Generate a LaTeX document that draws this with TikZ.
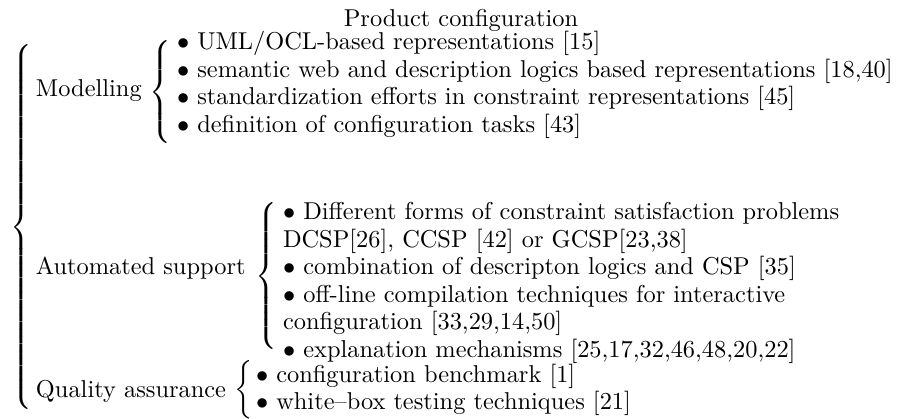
\documentclass[tikz,border=0pt]{standalone}
\usepackage{amsmath,amssymb}
\usepackage{tikz}

\newcommand{\tallbrace}[1]{$\left\{\vcenter{\hbox{\rule{0pt}{#1}}}\right.$}

\begin{document}
\begin{tikzpicture}[x=0.41pt, y=-0.41pt,
        every node/.style={inner sep=0pt, outer sep=0pt},
        brace/.style={anchor=west},
        label/.style={anchor=west},
        items/.style={anchor=west, align=left, font=\fontsize{10}{11.3}\selectfont}]
        \useasboundingbox (0,0) rectangle (904,419);

        \node (title) at (461,20) {Product configuration};
        \node[brace] (rootbrace) at (11,227) {\tallbrace{155pt}};

        \node[label] (modelling) at (36,91) {Modelling};
        \node[brace] (mbrace) at (149,92) {\tallbrace{46pt}};
        \node[items] (mitems) at (177,85) {$\bullet$ UML/OCL-based representations [15]\\
            $\bullet$ semantic web and description logics based representations [18,40]\\
            $\bullet$ standardization efforts in constraint representations [45]\\
            $\bullet$ definition of configuration tasks [43]};

        \node[label] (automated) at (36,268) {Automated support};
        \node[brace] (abrace) at (255,276) {\tallbrace{65pt}};
        \node[items] (aitems) at (283,283) {$\bullet$ Different forms of constraint satisfaction problems\\
            DCSP[26], CCSP [42] or GCSP[23,38]\\
            $\bullet$ combination of descripton logics and CSP [35]\\
            $\bullet$ off-line compilation techniques for interactive\\
            configuration [33,29,14,50]\\
            $\bullet$ explanation mechanisms [25,17,32,46,48,20,22]};

        \node[label] (quality) at (36,391) {Quality assurance};
        \node[brace] (qbrace) at (234,390) {\tallbrace{23pt}};
        \node[items] (qitems) at (256,390) {$\bullet$ configuration benchmark [1]\\
            $\bullet$ white--box testing techniques [21]};
    \end{tikzpicture}
\end{document}
